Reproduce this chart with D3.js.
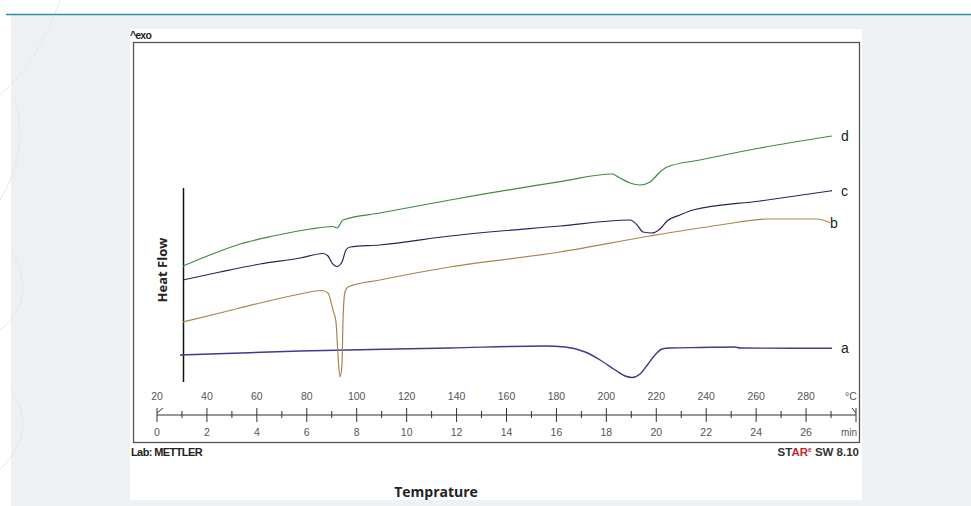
<!DOCTYPE html>
<html><head><meta charset="utf-8">
<script src="https://cdn.jsdelivr.net/npm/d3@7"></script>
<style>
html,body{margin:0;padding:0;background:#fff;}
svg{display:block;}
</style></head>
<body>
<svg id="c" width="971" height="506"></svg>
<script>
// ---- data (temperature °C, heat flow arbitrary units) ----
const tempTicks = [20,40,60,80,100,120,140,160,180,200,220,240,260,280];
const timeTicks = [0,2,4,6,8,10,12,14,16,18,20,22,24,26];
const seriesNames = ["a","b","c","d"];
const seriesColors = ["#3a3d8c","#a8854a","#25255e","#3f8a44"];

const curveA = [[29.2,0.5],[77.3,0.9],[137.4,1.2],[175.4,1.4],[183.5,1.3],[191.5,0.8],[197.5,0],[203.5,-1.0],[207.5,-1.6],[210.3,-1.75],[213.5,-1.4],[216.7,-0.4],[219.5,0.5],[222.3,1.1],[225.5,1.2],[237.5,1.25],[251.6,1.3],[253.6,1.2],[290.4,1.17]];
const curveB = [[30.4,3.8],[45.2,4.7],[61.3,5.7],[77.3,6.6],[86.1,6.95],[88.5,6.7],[90.5,5.0],[91.7,3.8],[92.5,0.5],[93.3,-1.7],[94.1,-0.5],[94.5,4.0],[95.3,6.8],[96.5,7.3],[109.3,8.0],[137.4,9.3],[181.5,10.8],[217.5,12.4],[245.6,13.5],[264.8,14.1],[284.4,14.1],[289.6,13.73]];
const curveC = [[30.4,8.0],[45.2,8.8],[61.3,9.6],[77.3,10.2],[86.5,10.65],[88.5,10.4],[90.1,9.7],[92.1,9.35],[94.1,9.8],[95.7,11.0],[97.3,11.3],[109.3,11.5],[137.4,12.4],[181.5,13.4],[209.5,14.0],[212.3,13.5],[214.7,12.8],[218.3,12.7],[221.5,13.1],[224.3,13.9],[229.5,14.5],[234.7,15.0],[261.6,15.9],[290.4,16.93]];
const curveD = [[30.4,9.4],[41.2,10.5],[53.3,11.6],[66.5,12.4],[81.3,13.1],[90.5,13.35],[92.1,13.2],[94.5,14.0],[109.3,14.7],[137.4,16.0],[181.5,17.83],[202.2,18.6],[205.5,18.2],[209.5,17.7],[213.5,17.5],[217.5,17.8],[221.5,18.8],[224.3,19.3],[237.5,20.0],[261.6,21.2],[290.4,22.4]];
const allCurves = [curveA, curveB, curveC, curveD];

// ---- drawing ----
const svg = d3.select("#c");
const font = "Liberation Sans, Arial, sans-serif";

svg.append("rect").attr("x",0).attr("y",0).attr("width",971).attr("height",506).attr("fill","#ffffff");
svg.append("rect").attr("x",11).attr("y",15).attr("width",960).attr("height",491).attr("fill","#eef1f4");
const deco = svg.append("g").attr("fill","none").attr("stroke","#e3e7ec").attr("stroke-width",1);
deco.append("path").attr("d","M0,95 Q40,60 60,0");
deco.append("path").attr("d","M0,200 Q30,150 15,100");
deco.append("path").attr("d","M0,330 Q40,300 11,250");
deco.append("path").attr("d","M0,470 Q40,430 11,390");
svg.append("line").attr("x1",6).attr("x2",971).attr("y1",14.5).attr("y2",14.5).attr("stroke","#2a93a3").attr("stroke-width",1.5);

svg.append("rect").attr("x",130).attr("y",29).attr("width",732).attr("height",471).attr("fill","#ffffff");
svg.append("rect").attr("x",133.5).attr("y",42.5).attr("width",726).attr("height",400).attr("fill","none").attr("stroke","#555").attr("stroke-width",1.3);

svg.append("text").attr("x",130).attr("y",39).attr("font-family",font).attr("font-size",10.5).attr("font-weight","bold").attr("letter-spacing","-0.8").attr("fill","#222").text("^exo");

// scales
const x = d3.scaleLinear().domain([20,300]).range([157,856]);
const y = d3.scaleLinear().domain([0,25]).range([360,110]);
const xTime = d3.scaleLinear().domain([0,28]).range([157,856]);

svg.append("line").attr("x1",183.5).attr("x2",183.5).attr("y1",y(17.2)).attr("y2",y(-2.2)).attr("stroke","#111").attr("stroke-width",1.5);
svg.append("text").attr("transform","translate(167,270) rotate(-90)").attr("text-anchor","middle")
  .attr("font-family","Open Sans, sans-serif").attr("font-weight","bold").attr("font-size",13).attr("fill","#222").text("Heat Flow");

const line = d3.line().x(d=>x(d[0])).y(d=>y(d[1])).curve(d3.curveMonotoneX);
allCurves.forEach((c,i)=>{
  svg.append("path").datum(c).attr("d",line).attr("fill","none")
    .attr("stroke",seriesColors[i]).attr("stroke-width", i===0?1.4:1.2);
});
allCurves.forEach((c,i)=>{
  const last = c[c.length-1];
  svg.append("text").attr("x",x(last[0])+ (i===1?0:9)).attr("y",y(last[1])+5)
    .attr("font-family",font).attr("font-size",14).attr("fill","#222").text(seriesNames[i]);
});

// bottom axis
const axY = 415;
svg.append("line").attr("x1",x(20)).attr("x2",x(300)).attr("y1",axY).attr("y2",axY).attr("stroke","#333").attr("stroke-width",1);
const ax = svg.append("g");
d3.range(0,29,1).forEach(t=>{
  const major = t%2===0;
  ax.append("line").attr("x1",xTime(t)).attr("x2",xTime(t))
    .attr("y1",axY-(major?7:4)).attr("y2",axY+(major?7:3)).attr("stroke","#333").attr("stroke-width",1);
});
ax.append("line").attr("x1",xTime(0)).attr("x2",xTime(0)+6).attr("y1",axY-2).attr("y2",axY-7).attr("stroke","#333");
ax.append("line").attr("x1",xTime(28)).attr("x2",xTime(28)-4).attr("y1",axY-2).attr("y2",axY-7).attr("stroke","#333");

tempTicks.forEach(t=>{
  ax.append("text").attr("x",x(t)).attr("y",400).attr("text-anchor","middle")
    .attr("font-family",font).attr("font-size",10.5).attr("fill","#555").text(t);
});
ax.append("text").attr("x",851).attr("y",400).attr("text-anchor","middle").attr("font-family",font).attr("font-size",10.5).attr("fill","#555").text("°C");
timeTicks.forEach(t=>{
  ax.append("text").attr("x",xTime(t)).attr("y",436).attr("text-anchor","middle")
    .attr("font-family",font).attr("font-size",10.5).attr("fill","#555").text(t);
});
ax.append("text").attr("x",849).attr("y",436).attr("text-anchor","middle").attr("font-family",font).attr("font-size",10).attr("fill","#555").text("min");

svg.append("text").attr("x",131).attr("y",456).attr("font-family",font).attr("font-size",11).attr("font-weight","bold").attr("letter-spacing","-0.6").attr("fill","#222").text("Lab: METTLER");
const star = svg.append("text").attr("x",859).attr("y",456).attr("text-anchor","end").attr("font-family",font).attr("font-size",11.5).attr("font-weight","bold").attr("fill","#333");
star.append("tspan").text("ST");
star.append("tspan").attr("fill","#c0282c").text("AR");
star.append("tspan").attr("font-size",6.5).attr("dy",-4).attr("fill","#c0282c").text("e");
star.append("tspan").attr("dy",4).text(" SW 8.10");

svg.append("text").attr("x",436).attr("y",497).attr("text-anchor","middle").attr("font-family","Open Sans, sans-serif").attr("font-weight","bold").attr("font-size",14).attr("fill","#222").text("Temprature");
</script>
</body></html>
